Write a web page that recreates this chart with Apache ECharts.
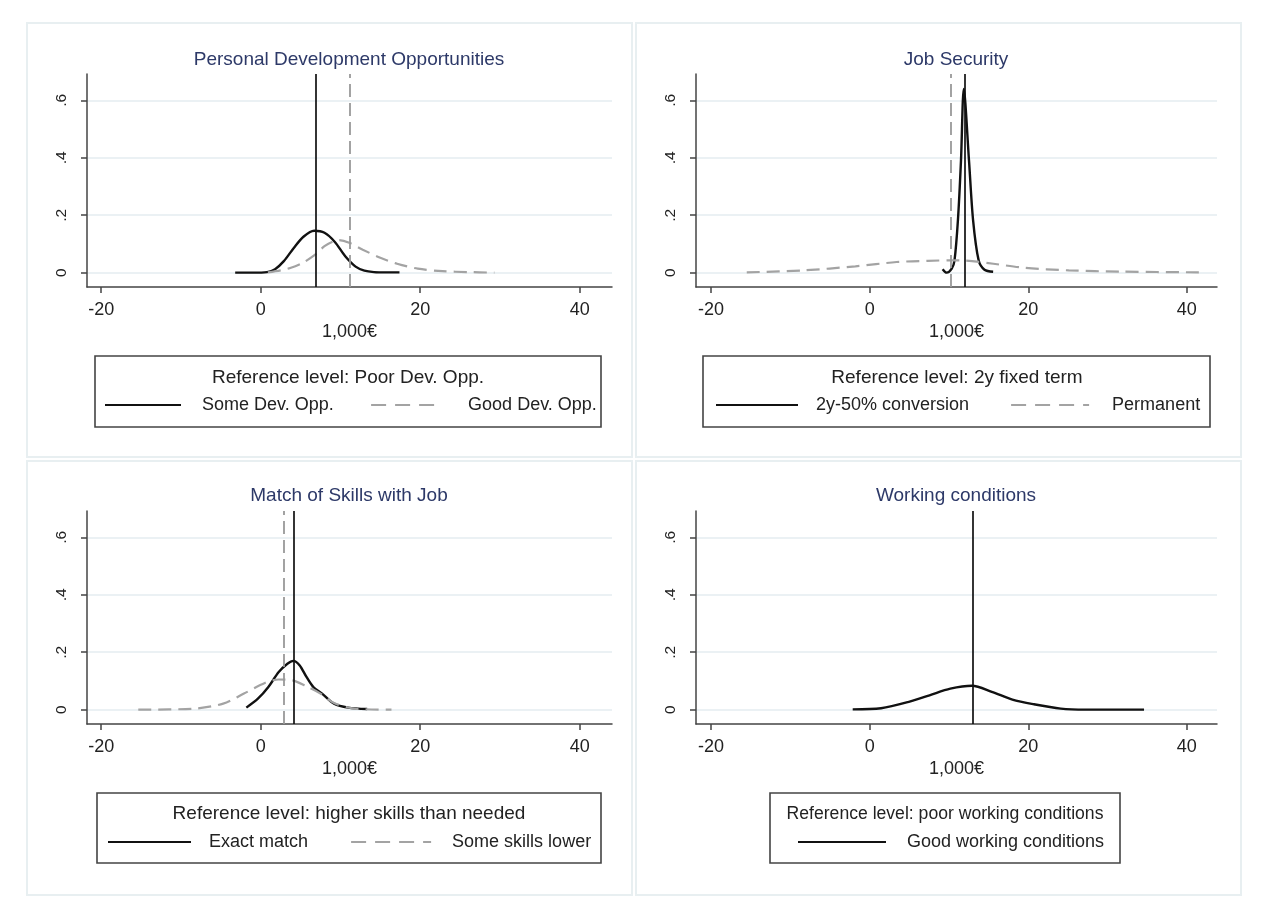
<!DOCTYPE html>
<html>
<head>
<meta charset="utf-8">
<script src="https://cdn.jsdelivr.net/npm/echarts@6/dist/echarts.min.js"></script>
<style>
html,body{margin:0;padding:0;background:#fff;}
#chart{width:1263px;height:910px;}
</style>
</head>
<body>
<div id="chart"></div>
<script>
// ---------- data ----------
const panelTitles = ['Personal Development Opportunities', 'Job Security', 'Match of Skills with Job', 'Working conditions'];
const refLevels = ['Reference level: Poor Dev. Opp.', 'Reference level: 2y fixed term', 'Reference level: higher skills than needed', 'Reference level: poor working conditions'];
const xTicks = [-20, 0, 20, 40];
const yTicks = [0, 0.2, 0.4, 0.6];
const xAxisTitle = '1,000€';

// Panel 1: Personal Development Opportunities
const someDevX = [-3.2, -1, 0.8, 1.8, 2.9, 4.2, 5.4, 6.7, 8.0, 9.3, 10.6, 11.9, 13.0, 14.2, 15.8, 17.4];
const someDevY = [0, 0, 0.002, 0.012, 0.04, 0.088, 0.126, 0.146, 0.139, 0.107, 0.057, 0.021, 0.007, 0.002, 0.001, 0.001];
const goodDevX = [0.9, 2.5, 3.7, 5.2, 6.7, 8.0, 9.0, 9.8, 11.1, 12.8, 15.0, 17.1, 19.7, 22.8, 26, 29.3];
const goodDevY = [0.001, 0.008, 0.016, 0.033, 0.06, 0.092, 0.108, 0.113, 0.104, 0.08, 0.052, 0.031, 0.014, 0.005, 0.002, 0];
const someDevMean = 6.9;
const goodDevMean = 11.2;

// Panel 2: Job Security
const conv50X = [9.2, 9.7, 10.35, 10.7, 11.13, 11.52, 11.87, 12.52, 13.04, 13.74, 14.48, 15.57];
const conv50Y = [0.012, 0, 0.014, 0.043, 0.183, 0.393, 0.64, 0.393, 0.183, 0.043, 0.01, 0.003];
const permX = [-15.5, -8.3, -1.8, 3.4, 7.3, 10.3, 12.1, 15.6, 19.5, 25.1, 31.7, 42.1];
const permY = [0.001, 0.008, 0.022, 0.037, 0.041, 0.043, 0.042, 0.031, 0.017, 0.008, 0.0035, 0.001];
const conv50Mean = 12.0;
const permMean = 10.2;

// Panel 3: Match of Skills with Job
const exactX = [-1.8, -0.35, 0.96, 2.26, 3.35, 4.1, 4.87, 5.74, 6.6, 7.7, 9.2, 10.96, 13.35];
const exactY = [0.007, 0.038, 0.079, 0.131, 0.16, 0.17, 0.155, 0.114, 0.079, 0.056, 0.021, 0.007, 0.002];
const lowerX = [-15.35, -8.6, -4.7, -2.1, 0.52, 2.26, 4.0, 5.74, 7.5, 9.2, 11.8, 16.4];
const lowerY = [0, 0.003, 0.021, 0.056, 0.093, 0.105, 0.102, 0.081, 0.056, 0.023, 0.0035, 0];
const exactMean = 4.13;
const lowerMean = 2.91;

// Panel 4: Working conditions
const goodWcX = [-2.14, 1.44, 4.93, 7.55, 10.17, 12.9, 15.4, 18.0, 20.65, 24.1, 27.2, 34.6];
const goodWcY = [0.001, 0.005, 0.027, 0.05, 0.073, 0.083, 0.062, 0.035, 0.019, 0.0035, 0, 0];
const goodWcMean = 13.0;

// ---------- layout / style ----------
const FONT = '"Liberation Sans", Arial, sans-serif';
const zip = (xs, ys) => xs.map((x, i) => [x, ys[i]]);
const grids = [
  {left: 87, top: 74, width: 525, height: 213, xmin: -21.78, xmax: 44.05},
  {left: 696, top: 74, width: 521, height: 213, xmin: -21.9, xmax: 43.8},
  {left: 87, top: 511, width: 525, height: 213, xmin: -21.78, xmax: 44.05},
  {left: 696, top: 511, width: 521, height: 213, xmin: -21.9, xmax: 43.8}
];
const YMIN = -0.05, YMAX = 0.692;
const solidCurve = {color: '#111', width: 2.4, type: 'solid'};
const dashCurve = {color: '#a3a3a3', width: 2.2, type: [13, 7]};
const solidV = {color: '#111', width: 1.7, type: 'solid'};
const dashV = {color: '#999', width: 1.8, type: [13, 6]};

function curve(name, gi, xs, ys, style, vline, vstyle) {
  return {
    name: name, type: 'line', xAxisIndex: gi, yAxisIndex: gi,
    data: zip(xs, ys), symbol: 'none', showSymbol: false,
    smooth: 0.3,
    lineStyle: style, itemStyle: {color: style.color},
    emphasis: {disabled: true}, silent: true,
    markLine: {
      silent: true, symbol: ['none', 'none'], label: {show: false},
      lineStyle: vstyle, emphasis: {disabled: true},
      data: [{xAxis: vline}]
    },
    z: 3
  };
}

const series = [
  curve('Some Dev. Opp.', 0, someDevX, someDevY, solidCurve, someDevMean, solidV),
  curve('Good Dev. Opp.', 0, goodDevX, goodDevY, dashCurve, goodDevMean, dashV),
  curve('2y-50% conversion', 1, conv50X, conv50Y, solidCurve, conv50Mean, solidV),
  curve('Permanent', 1, permX, permY, dashCurve, permMean, dashV),
  curve('Exact match', 2, exactX, exactY, solidCurve, exactMean, solidV),
  curve('Some skills lower', 2, lowerX, lowerY, dashCurve, lowerMean, dashV),
  curve('Good working conditions', 3, goodWcX, goodWcY, solidCurve, goodWcMean, solidV)
];

const xAxes = grids.map((g, i) => ({
  type: 'value', gridIndex: i, min: g.xmin, max: g.xmax,
  axisLine: {show: true, onZero: false, lineStyle: {color: '#444', width: 1.5}},
  axisTick: {show: true, length: 6, customValues: xTicks, lineStyle: {color: '#444', width: 1.5}},
  axisLabel: {customValues: xTicks, margin: 14, fontSize: 18, color: '#222', fontFamily: FONT},
  splitLine: {show: false},
  name: xAxisTitle, nameLocation: 'middle', nameGap: 36,
  nameTextStyle: {fontSize: 18, color: '#222', fontFamily: FONT}
}));
const yAxes = grids.map((g, i) => ({
  type: 'value', gridIndex: i, min: YMIN, max: YMAX,
  axisLine: {show: true, onZero: false, lineStyle: {color: '#444', width: 1.5}},
  axisTick: {show: true, length: 6, customValues: yTicks, lineStyle: {color: '#444', width: 1.5}},
  axisLabel: {customValues: yTicks, rotate: 90, margin: 17, fontSize: 15.5, color: '#222', fontFamily: FONT,
    formatter: v => (Math.abs(v) < 1e-9 ? '0' : '.' + Math.round(v * 10))},
  splitLine: {show: true, lineStyle: {color: '#e4edf1', width: 1.5}}
}));

function legendItem(name, left, top, width, pad, dashed) {
  const lg = {
    data: [name], left: left, top: top, orient: 'horizontal',
    itemWidth: width, itemHeight: 14, padding: 0, selectedMode: false,
    itemStyle: {opacity: 0},
    textStyle: {fontSize: 18, color: '#222', fontFamily: FONT, padding: [0, 0, 0, pad]}
  };
  if (dashed) lg.lineStyle = {type: [15, 9], width: 2.2};
  return lg;
}
const legends = [
  legendItem('Some Dev. Opp.', 104, 396, 76, 16, false),
  legendItem('Good Dev. Opp.', 370, 396, 72, 20, true),
  legendItem('2y-50% conversion', 715, 396, 82, 13, false),
  legendItem('Permanent', 1010, 396, 78, 18, true),
  legendItem('Exact match', 107, 833, 83, 13, false),
  legendItem('Some skills lower', 350, 833, 80, 16, true),
  legendItem('Good working conditions', 797, 833, 88, 16, false)
];

const panelRects = [[27, 23], [636, 23], [27, 461], [636, 461]];
const boxRects = [[95, 356, 506, 71], [703, 356, 507, 71], [97, 793, 504, 70], [770, 793, 350, 70]];
const titleCenters = [[349, 60], [956, 60], [349, 496], [956, 496]];
const refCenters = [[348, 378], [957, 378], [349, 814], [945, 814]];
const refFontSizes = [19, 19, 19, 17.6];

const graphics = [];
panelRects.forEach(p => graphics.push({type: 'rect', z: -10, silent: true,
  shape: {x: p[0], y: p[1], width: 605, height: 434},
  style: {fill: '#fff', stroke: '#e8eff1', lineWidth: 2}}));
boxRects.forEach(b => graphics.push({type: 'rect', z: 1, silent: true,
  shape: {x: b[0], y: b[1], width: b[2], height: b[3]},
  style: {fill: 'none', stroke: '#444', lineWidth: 1.6}}));
titleCenters.forEach((c, i) => graphics.push({type: 'text', silent: true, x: c[0], y: c[1],
  style: {text: panelTitles[i], align: 'center', verticalAlign: 'middle', fill: '#2d3968',
    font: '19px ' + FONT}}));
refCenters.forEach((c, i) => graphics.push({type: 'text', silent: true, x: c[0], y: c[1],
  style: {text: refLevels[i], align: 'center', verticalAlign: 'middle', fill: '#222',
    font: refFontSizes[i] + 'px ' + FONT}}));

const chart = echarts.init(document.getElementById('chart'), null, {renderer: 'canvas'});
chart.setOption({
  animation: false,
  backgroundColor: '#fff',
  grid: grids.map(g => ({left: g.left, top: g.top, width: g.width, height: g.height, outerBoundsMode: 'none', containLabel: false})),
  xAxis: xAxes,
  yAxis: yAxes,
  legend: legends,
  series: series,
  graphic: graphics
});
</script>
</body>
</html>
